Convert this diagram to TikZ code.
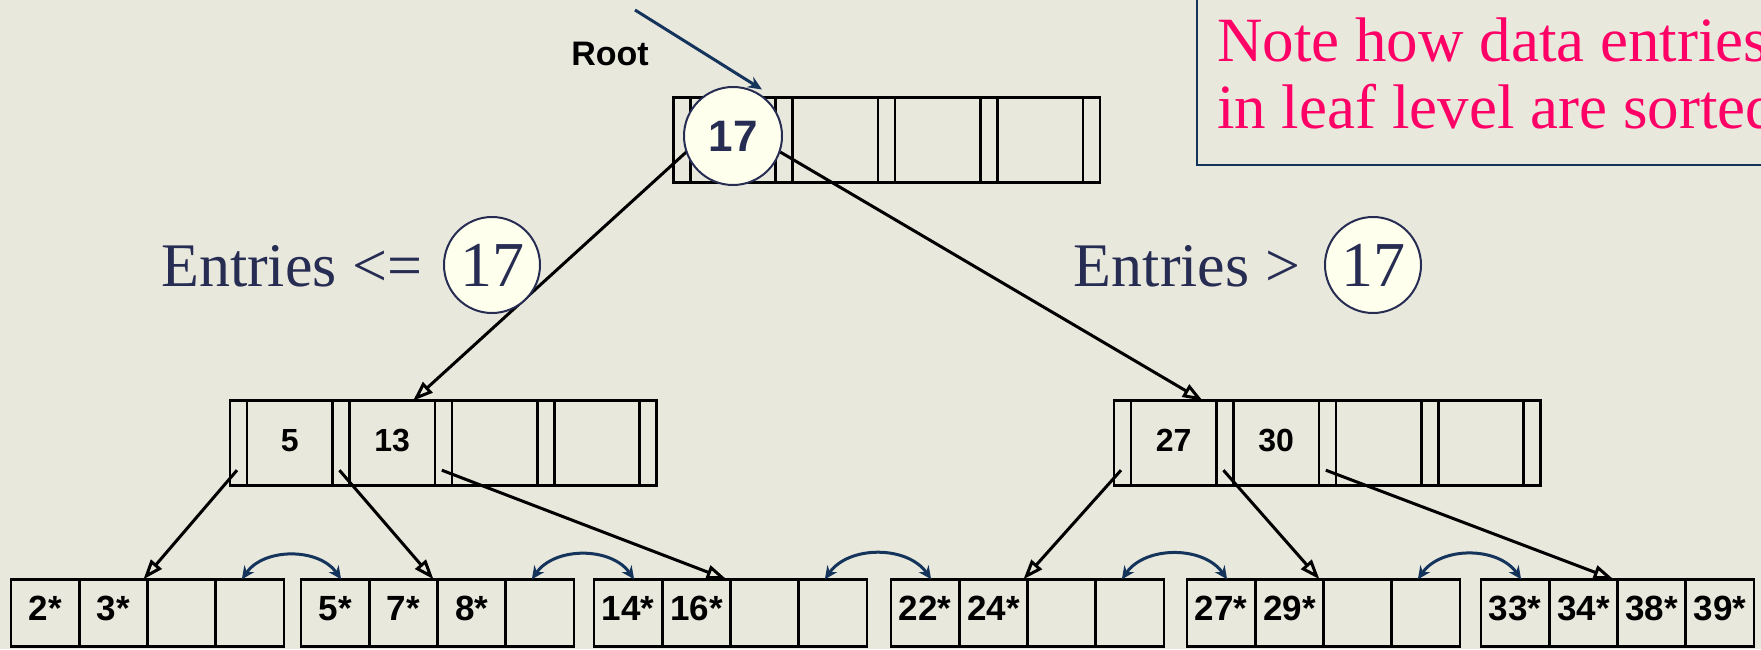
\documentclass[tikz,border=0pt]{standalone}
\usepackage{fontspec}
\setmainfont{Liberation Serif}
\newfontfamily\arialfont{Liberation Sans}
\usetikzlibrary{positioning,arrows.meta}
\definecolor{paper}{RGB}{232,232,221}
\definecolor{navy}{RGB}{20,52,92}
\definecolor{ink}{RGB}{38,44,82}
\definecolor{cream}{RGB}{255,255,238}
\definecolor{hotpink}{RGB}{255,0,102}

\begin{document}
\begin{tikzpicture}
[
  x=1pt,y=1pt,
  ptrcell/.style={rectangle,draw=black,line width=2.6pt,minimum width=17pt,minimum height=85pt,inner sep=0pt,outer sep=0pt},
  keycell/.style={ptrcell,minimum width=85.4pt,font=\arialfont\bfseries\fontsize{32}{32}\selectfont,text depth=6pt},
  leafcell/.style={rectangle,draw=black,line width=2.6pt,minimum width=68.25pt,minimum height=67.4pt,inner sep=0pt,outer sep=0pt,font=\arialfont\bfseries\fontsize{35}{35}\selectfont,text depth=10pt},
  down/.style={-{Triangle[open,length=20pt,width=14pt]},line width=3pt},
  rootptr/.style={-{Stealth[length=14pt,width=12pt]},navy,line width=3pt},
  sibling/.style={{Stealth[length=13pt,width=12pt]}-{Stealth[length=13pt,width=12pt]},navy,line width=3pt,bend left=55},
  ring/.style={circle,draw=ink,line width=2pt,fill=cream,text=ink,inner sep=0pt},
  entries/.style={text=ink,font=\fontsize{62}{62}\selectfont,inner sep=0pt},
]
\useasboundingbox (0,0) rectangle (1761,649);
\clip (0,0) rectangle (1761,649);
\fill[paper] (0,0) rectangle (1761,649);

% note box, cut by the page edge
\draw[navy,line width=2.6pt] (1197,484) rectangle (1800,680);
\node[text=hotpink,font=\fontsize{63}{66.6}\selectfont,align=left,inner sep=0pt,anchor=base west] (note) at (1217,520.7) {Note how data entries\\in leaf level are sorted};

% root node
\node[ptrcell] (r0) at (681.8,509) {};
\node[keycell,right=0pt of r0] (r1) {};
\node[ptrcell,right=0pt of r1] (r2) {};
\node[keycell,right=0pt of r2] (r3) {};
\node[ptrcell,right=0pt of r3] (r4) {};
\node[keycell,right=0pt of r4] (r5) {};
\node[ptrcell,right=0pt of r5] (r6) {};
\node[keycell,right=0pt of r6] (r7) {};
\node[ptrcell,right=0pt of r7] (r8) {};

% left child
\node[ptrcell] (l0) at (238.5,205.8) {};
\node[keycell,right=0pt of l0] (l1) {5};
\node[ptrcell,right=0pt of l1] (l2) {};
\node[keycell,right=0pt of l2] (l3) {13};
\node[ptrcell,right=0pt of l3] (l4) {};
\node[keycell,right=0pt of l4] (l5) {};
\node[ptrcell,right=0pt of l5] (l6) {};
\node[keycell,right=0pt of l6] (l7) {};
\node[ptrcell,right=0pt of l7] (l8) {};

% right child
\node[ptrcell] (q0) at (1122.5,205.8) {};
\node[keycell,right=0pt of q0] (q1) {27};
\node[ptrcell,right=0pt of q1] (q2) {};
\node[keycell,right=0pt of q2] (q3) {30};
\node[ptrcell,right=0pt of q3] (q4) {};
\node[keycell,right=0pt of q4] (q5) {};
\node[ptrcell,right=0pt of q5] (q6) {};
\node[keycell,right=0pt of q6] (q7) {};
\node[ptrcell,right=0pt of q7] (q8) {};

% leaves
\node[leafcell] (a1) at (45.1,36) {2*};
\node[leafcell,right=0pt of a1] (a2) {3*};
\node[leafcell,right=0pt of a2] (a3) {};
\node[leafcell,right=0pt of a3] (a4) {};
\node[leafcell] (b1) at (335.1,36) {5*};
\node[leafcell,right=0pt of b1] (b2) {7*};
\node[leafcell,right=0pt of b2] (b3) {8*};
\node[leafcell,right=0pt of b3] (b4) {};
\node[leafcell] (c1) at (628.1,36) {14*};
\node[leafcell,right=0pt of c1] (c2) {16*};
\node[leafcell,right=0pt of c2] (c3) {};
\node[leafcell,right=0pt of c3] (c4) {};
\node[leafcell] (d1) at (925.1,36) {22*};
\node[leafcell,right=0pt of d1] (d2) {24*};
\node[leafcell,right=0pt of d2] (d3) {};
\node[leafcell,right=0pt of d3] (d4) {};
\node[leafcell] (e1) at (1221.1,36) {27*};
\node[leafcell,right=0pt of e1] (e2) {29*};
\node[leafcell,right=0pt of e2] (e3) {};
\node[leafcell,right=0pt of e3] (e4) {};
\node[leafcell] (f1) at (1515.1,36) {33*};
\node[leafcell,right=0pt of f1] (f2) {34*};
\node[leafcell,right=0pt of f2] (f3) {38*};
\node[leafcell,right=0pt of f3] (f4) {39*};

% pointers
\draw[down] ([xshift=4.5pt,yshift=-12pt]r0.center) -- ([xshift=21pt]l3.north);
\draw[down] ([xshift=-4pt,yshift=-12pt]r2.center) -- ([xshift=29pt]q1.north);
\draw[down] ([xshift=-1.5pt,yshift=-27pt]l0.center) -- ([xshift=-4pt]a2.north east);
\draw[down] ([xshift=-1.5pt,yshift=-27pt]l2.center) -- ([xshift=-4pt]b2.north east);
\draw[down] ([xshift=-1.5pt,yshift=-27pt]l4.center) -- ([xshift=-4pt]c2.north east);
\draw[down] ([xshift=-1.5pt,yshift=-27pt]q0.center) -- ([xshift=-4pt]d2.north east);
\draw[down] ([xshift=-1.5pt,yshift=-27pt]q2.center) -- ([xshift=-4pt]e2.north east);
\draw[down] ([xshift=-1.5pt,yshift=-27pt]q4.center) -- ([xshift=-4pt]f2.north east);

% leaf chain
\draw[sibling] ([xshift=-8pt]a4.north) to ([xshift=6pt]b1.north);
\draw[sibling] ([xshift=-8pt]b4.north) to ([xshift=6pt]c1.north);
\draw[sibling] ([xshift=-8pt]c4.north) to ([xshift=6pt]d1.north);
\draw[sibling] ([xshift=-8pt]d4.north) to ([xshift=6pt]e1.north);
\draw[sibling] ([xshift=-8pt]e4.north) to ([xshift=6pt]f1.north);

% root key and label
\node[ring,minimum size=98pt,font=\arialfont\bfseries\fontsize{44}{44}\selectfont] (rootkey) at (733,513) {17};
\node[font=\arialfont\bfseries\fontsize{34}{34}\selectfont] (rootlbl) at (610,595) {Root};
\coordinate (rootin) at (635,639);
\draw[rootptr] (rootin) -- ([xshift=29pt,yshift=8pt]r1.north);

% ranges
\node[entries,anchor=base west] (lerange) at (161,362.3) {Entries <=};
\node[ring,minimum size=96pt,font=\fontsize{64}{64}\selectfont] (lekey) at (492,384) {17};
\node[entries,anchor=base west] (gtrange) at (1073.7,362.3) {Entries >};
\node[ring,minimum size=96pt,font=\fontsize{64}{64}\selectfont] (gtkey) at (1373,384) {17};
\end{tikzpicture}
\end{document}
